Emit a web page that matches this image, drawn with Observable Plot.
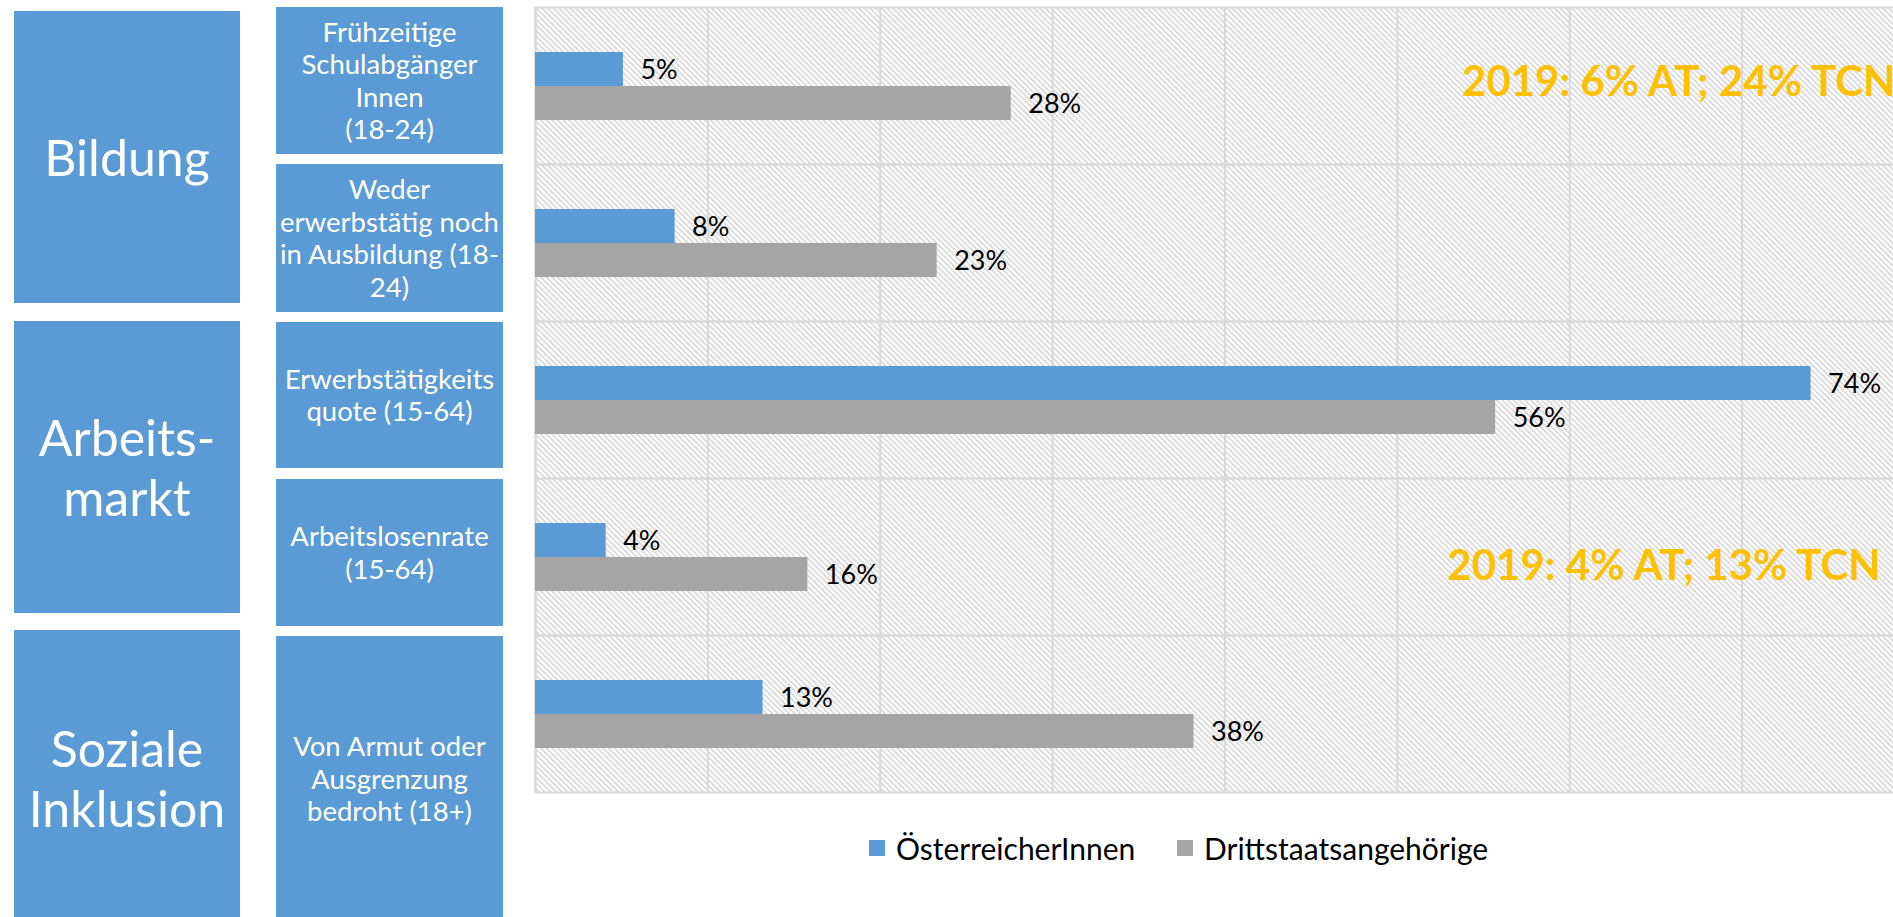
<!DOCTYPE html>
<html>
<head>
<meta charset="utf-8">
<script src="https://cdn.jsdelivr.net/npm/d3@7"></script>
<script src="https://cdn.jsdelivr.net/npm/@observablehq/plot@0.6"></script>
<style>
  html, body { margin: 0; padding: 0; background: #fff; overflow: hidden; width: 1893px; height: 917px; }
  body { position: relative; font-family: Lato, "Open Sans", sans-serif; }
  .box { position: absolute; background: #5B9BD5; color: #fff; display: flex; align-items: center; justify-content: center; text-align: center; white-space: pre-line; }
  .grp { left: 14px; width: 226px; font-size: 50px; line-height: 60px; }
  .ind { left: 276px; width: 227px; font-size: 27.5px; line-height: 32.5px; }
  #chart { position: absolute; left: 515px; top: 0; }
  .leg { position: absolute; top: 830px; display: flex; align-items: center; font-size: 30px; color: #000; white-space: nowrap; }
  .sw { width: 16px; height: 16px; margin-right: 11px; }
</style>
</head>
<body>
<div id="boxes"></div>
<div id="chart"></div>
<div id="legend"></div>
<script>
// ---- data ----
const groups = ["Bildung", "Arbeits-\nmarkt", "Soziale\nInklusion"];
const categories = [
  "Frühzeitige\nSchulabgänger\nInnen\n(18-24)",
  "Weder\nerwerbstätig noch\nin Ausbildung (18-\n24)",
  "Erwerbstätigkeits\nquote (15-64)",
  "Arbeitslosenrate\n(15-64)",
  "Von Armut oder\nAusgrenzung\nbedroht (18+)"
];
const series = ["ÖsterreicherInnen", "Drittstaatsangehörige"];
const valuesAT = [5.1, 8.1, 74, 4.1, 13.2];
const valuesTCN = [27.6, 23.3, 55.7, 15.8, 38.2];
const labelsAT = ["5%", "8%", "74%", "4%", "13%"];
const labelsTCN = ["28%", "23%", "56%", "16%", "38%"];
const gridTicks = [0, 10, 20, 30, 40, 50, 60, 70, 80];
const notes = ["2019: 6% AT; 24% TCN", "2019: 4% AT; 13% TCN"];
const noteCats = [categories[0], categories[3]];
const colors = ["#5B9BD5", "#A5A5A5"];

// ---- label boxes ----
const grpLayout = [[11, 292], [321, 292], [630, 296]];
const indLayout = [[7, 147], [164, 148], [322, 146], [479, 147], [636, 286]];
const boxes = document.getElementById("boxes");
groups.forEach((g, i) => {
  const d = document.createElement("div");
  d.className = "box grp";
  d.style.top = grpLayout[i][0] + "px";
  d.style.height = grpLayout[i][1] + "px";
  d.textContent = g;
  boxes.appendChild(d);
});
categories.forEach((c, i) => {
  const d = document.createElement("div");
  d.className = "box ind";
  d.style.top = indLayout[i][0] + "px";
  d.style.height = indLayout[i][1] + "px";
  d.textContent = c;
  boxes.appendChild(d);
});

// ---- chart ----
const rows = [];
categories.forEach((c, i) => {
  rows.push({cat: c, series: series[0], value: valuesAT[i], label: labelsAT[i]});
  rows.push({cat: c, series: series[1], value: valuesTCN[i], label: labelsTCN[i]});
});
const noteRows = notes.map((t, i) => ({cat: noteCats[i], text: t}));

const svg = Plot.plot({
  width: 1399,
  height: 794,
  marginLeft: 20,
  marginRight: 0,
  marginTop: 6,
  marginBottom: 1,
  style: {background: "transparent", maxWidth: "none", overflow: "visible", fontFamily: "Lato, sans-serif"},
  x: {domain: [0, 80], axis: null},
  y: {domain: series, axis: null, paddingInner: 0, paddingOuter: 1.28},
  fy: {domain: categories, axis: null, padding: 0},
  color: {domain: series, range: colors},
  marks: [
    Plot.frame({fill: "url(#hatch)"}),
    Plot.ruleX(gridTicks, {stroke: "#D9D9D9", strokeWidth: 2}),
    Plot.frame({stroke: "#D9D9D9", strokeWidth: 2}),
    Plot.barX(rows, {x: "value", y: "series", fy: "cat", fill: "series"}),
    Plot.text(rows, {x: "value", y: "series", fy: "cat", text: "label", textAnchor: "start", dx: 17, dy: 1, fontSize: 27, fill: "#000"}),
    Plot.text(noteRows.slice(0, 1), {x: () => 53.75, fy: "cat", text: "text", textAnchor: "start", dy: -3, fontSize: 42, fontWeight: "bold", fill: "#FFC000"}),
    Plot.text(noteRows.slice(1, 2), {x: () => 52.9, fy: "cat", text: "text", textAnchor: "start", dy: 10, fontSize: 42, fontWeight: "bold", fill: "#FFC000"})
  ]
});
d3.select(svg).insert("defs", ":first-child").html(
  '<pattern id="hatch" width="4" height="4" patternUnits="userSpaceOnUse" patternTransform="rotate(45)">' +
  '<rect width="4" height="4" fill="#ffffff"/>' +
  '<line x1="0" y1="2" x2="4" y2="2" stroke="#CFCFCF" stroke-width="1.4"/></pattern>'
);
document.getElementById("chart").appendChild(svg);

// ---- legend ----
const legend = document.getElementById("legend");
const legLeft = [869, 1177];
series.forEach((s, i) => {
  const item = document.createElement("div");
  item.className = "leg";
  item.style.left = legLeft[i] + "px";
  const sw = document.createElement("div");
  sw.className = "sw";
  sw.style.background = colors[i];
  const t = document.createElement("span");
  t.textContent = s;
  item.appendChild(sw);
  item.appendChild(t);
  legend.appendChild(item);
});
</script>
</body>
</html>
